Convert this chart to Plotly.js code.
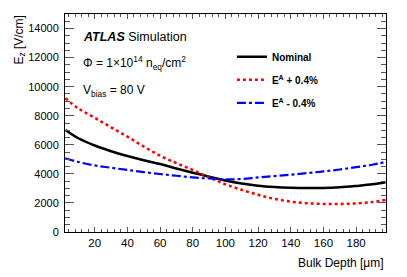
<!DOCTYPE html>
<html>
<head>
<meta charset="utf-8">
<script src="https://cdn.plot.ly/plotly-3.0.1.min.js"></script>
<style>html,body{margin:0;padding:0;background:#fff;}#chart{width:407px;height:277px;}</style>
</head>
<body>
<div id="chart"></div>
<script>
const depth = [2, 10, 20, 30, 40, 50, 60, 70, 80, 90, 100, 110, 120, 130, 140, 150, 160, 170, 180, 190, 198];
const nominal = [7020, 6450, 5950, 5560, 5230, 4940, 4680, 4370, 4080, 3800, 3550, 3340, 3180, 3090, 3040, 3020, 3030, 3080, 3170, 3280, 3420];
const plus04 = [9200, 8500, 7860, 7200, 6560, 5880, 5250, 4740, 4270, 3760, 3280, 2900, 2560, 2280, 2090, 1980, 1930, 1930, 1970, 2060, 2200];
const minus04 = [5070, 4820, 4580, 4420, 4270, 4120, 3990, 3870, 3760, 3680, 3620, 3650, 3760, 3850, 3940, 4050, 4170, 4300, 4460, 4630, 4820];
const seriesNames = ["Nominal", "E<sup>A</sup> + 0.4%", "E<sup>A</sup> - 0.4%"];

const FONT = "Liberation Sans, Arial, Helvetica, sans-serif";

const traces = [
  {x: depth, y: nominal, name: seriesNames[0], legendgroup: "a", type: "scatter", mode: "lines",
   line: {color: "#000000", width: 2.5, shape: "spline"}},
  {x: depth, y: plus04, name: seriesNames[1], legendgroup: "b", type: "scatter", mode: "lines",
   line: {color: "#ff0000", width: 2.5, dash: "dot", shape: "spline"}},
  {x: depth, y: minus04, name: seriesNames[2], legendgroup: "c", type: "scatter", mode: "lines",
   line: {color: "#0000ff", width: 2.2, dash: "dashdot", shape: "spline"}}
];

const layout = {
  width: 407, height: 277,
  margin: {l: 65, r: 21, t: 14, b: 45},
  paper_bgcolor: "#fff", plot_bgcolor: "#fff",
  font: {family: FONT, size: 12, color: "#000"},
  showlegend: true,
  legend: {x: 0.52, y: 0.87, xanchor: "left", yanchor: "top",
           font: {family: FONT, size: 10, weight: "bold"}, bgcolor: "rgba(0,0,0,0)",
           traceorder: "grouped", tracegroupgap: 4, itemwidth: 30},
  xaxis: {
    range: [1.8, 198.3], showgrid: false, zeroline: false,
    showline: true, linecolor: "#000", linewidth: 1, mirror: "allticks",
    ticks: "inside", ticklen: 5, tickcolor: "#555", dtick: 20, tick0: 0,
    minor: {dtick: 4, tick0: 0, ticks: "inside", ticklen: 3, tickcolor: "#555"},
    tickfont: {family: FONT, size: 11.5},
    title: {text: ""}
  },
  yaxis: {
    range: [0, 15000], showgrid: false, zeroline: false,
    showline: true, linecolor: "#000", linewidth: 1, mirror: "allticks",
    ticks: "inside", ticklen: 9, tickcolor: "#555", dtick: 2000, tick0: 0,
    tickformat: "d",
    minor: {dtick: 500, tick0: 0, ticks: "inside", ticklen: 5, tickcolor: "#555"},
    tickfont: {family: FONT, size: 11}, ticklabelstandoff: 3,
    title: {text: ""}
  },
  annotations: [
    {xref: "paper", yref: "paper", x: 1, y: -0.1, xanchor: "right", yanchor: "top",
     text: "Bulk Depth [μm]", showarrow: false, font: {family: FONT, size: 12}},
    {xref: "paper", yref: "paper", x: -0.11, y: 1.005, xanchor: "right", yanchor: "top",
     text: "E<sub>z</sub> [V/cm]", showarrow: false, textangle: -90, font: {family: FONT, size: 12}},
    {xref: "paper", yref: "paper", x: 0.05, y: 0.895, xanchor: "left", yanchor: "middle",
     text: "<b><i>ATLAS</i></b> Simulation", showarrow: false, font: {family: FONT, size: 12.5}},
    {xref: "paper", yref: "paper", x: 0.05, y: 0.775, xanchor: "left", yanchor: "middle",
     text: "Φ = 1×10<sup>14</sup> n<sub>eq</sub>/cm<sup>2</sup>", showarrow: false, font: {family: FONT, size: 12}},
    {xref: "paper", yref: "paper", x: 0.05, y: 0.645, xanchor: "left", yanchor: "middle",
     text: "V<sub>bias</sub> = 80 V", showarrow: false, font: {family: FONT, size: 12}}
  ]
};

Plotly.newPlot("chart", traces, layout, {displayModeBar: false, staticPlot: true});
</script>
</body>
</html>
